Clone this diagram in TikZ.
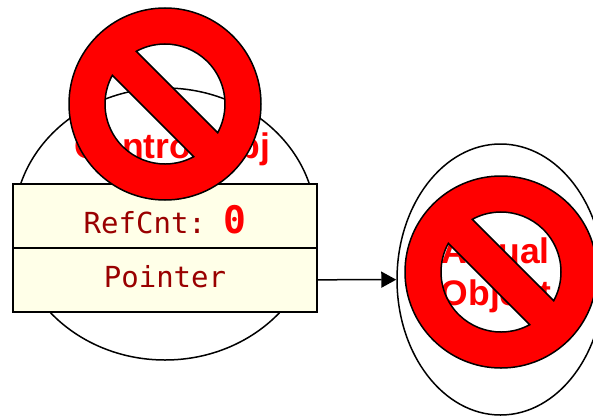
\documentclass[tikz,border=0pt]{standalone}
\usepackage{fontspec}
\setmainfont{Liberation Sans}
\setmonofont{DejaVu Sans Mono}
\usetikzlibrary{arrows.meta,shapes.geometric}
\definecolor{cellfill}{HTML}{FFFFE8}
\definecolor{celltext}{HTML}{990000}
\tikzset{
    blob/.style = {
        ellipse,
        draw,
        line width = 1.5pt,
        inner sep  = 0pt,
    },
    blobtext/.style = {
        text         = red,
        align        = center,
        inner sep    = 0pt,
        font         = \fontsize{35.5}{42}\selectfont\bfseries,
    },
    cell/.style = {
        draw,
        fill           = cellfill,
        text           = celltext,
        line width     = 2pt,
        minimum width  = 304pt,
        minimum height = 64pt,
        inner sep      = 0pt,
        text height    = 14pt,
        text depth     = 0pt,
        font           = \fontsize{29}{30}\ttfamily,
    },
    nosign/.pic = {
        \path[draw=black, fill=red, line width=1.5pt, even odd rule]
          (0,0) circle (96)
          (118.6:60) arc[start angle=118.6, end angle=-28.6, radius=60] -- cycle
          (298.6:60) arc[start angle=298.6, end angle=151.4, radius=60] -- cycle;
    }
}

\begin{document}
\begin{tikzpicture}[x=1pt, y=1pt, >={Triangle[length=15pt, width=16pt]}]
  % Sized in the pixels of the reference, y runs down as negative.
  \path[use as bounding box, clip] (0,-415) rectangle (593,0);

  \node[blob, minimum width=302pt, minimum height=272pt] (control) at (165,-224) {};
  \node[blob, minimum width=207pt, minimum height=271pt] (object) at (500.5,-279.5) {};
  \node[blobtext, anchor=base] (controllabel) at (172.5,-158) {Control Obj};
  \node[blobtext, anchor=base] (actuallabel) at (495.5,-263) {Actual};
  \node[blobtext, anchor=base] (objectlabel) at (496,-305) {Object};

  \node[cell, text height=34pt] (refcnt) at (165,-216)
    {RefCnt: {\fontsize{38}{38}\selectfont\bfseries\color{red}0}};
  \node[cell] (pointer) at (165,-280) {Pointer};

  \draw[->, line width=1.5pt] (pointer) -- (object);

  \pic (signcontrol) at (165,-104) {nosign};
  \pic (signobject) at (501,-272) {nosign};
\end{tikzpicture}
\end{document}
